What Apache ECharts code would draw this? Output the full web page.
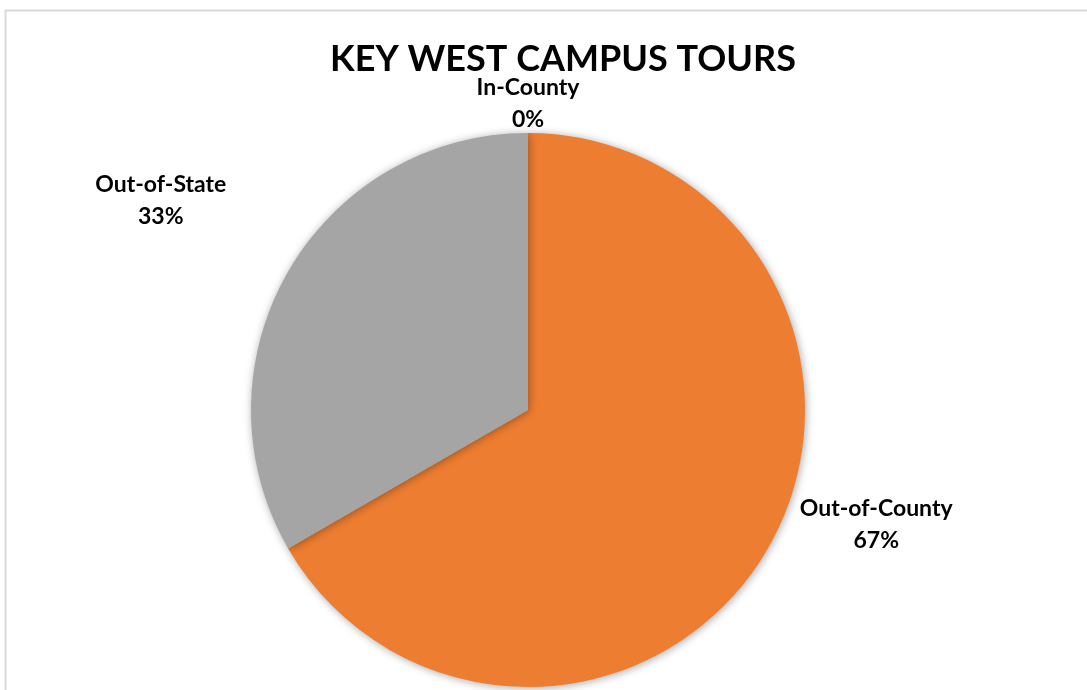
<!DOCTYPE html>
<html><head><meta charset="utf-8">
<script src="https://cdn.jsdelivr.net/npm/echarts@6/dist/echarts.min.js"></script>
<style>html,body{margin:0;padding:0;background:#fff}#c{width:1087px;height:690px}</style>
</head><body><div id="c"></div>
<script>
const titleText = 'KEY WEST CAMPUS TOURS';
const categories = ['In-County', 'Out-of-County', 'Out-of-State'];
const values = [0, 2, 1];
const colors = ['#5B9BD5', '#ED7D31', '#A5A5A5'];

const chart = echarts.init(document.getElementById('c'));
const font = 'Lato, "Open Sans", sans-serif';
chart.setOption({
  animation: false,
  graphic: [{
    type: 'rect', shape: { x: 5.5, y: 10.5, width: 1100, height: 700 },
    style: { fill: 'none', stroke: '#d9d9d9', lineWidth: 2 }, silent: true
  }],
  title: {
    text: titleText, left: 558, top: 36, textAlign: 'center',
    textStyle: { fontFamily: font, fontWeight: 'bold', fontSize: 36, color: '#000' }
  },
  series: [{
    type: 'pie',
    center: [528, 410],
    radius: 277,
    startAngle: 90,
    clockwise: true,
    data: categories.map((c, i) => ({ name: c, value: values[i], itemStyle: { color: colors[i] } })),
    itemStyle: { shadowBlur: 8, shadowColor: 'rgba(0,0,0,0.35)', shadowOffsetX: 1, shadowOffsetY: 1 },
    label: {
      show: true, position: 'outside',
      formatter: p => p.name + '\n' + Math.round(p.percent) + '%',
      fontFamily: font, fontWeight: 'bold', fontSize: 23, color: '#000',
      lineHeight: 32
    },
    labelLine: { show: false, length: 20, length2: 40 },
    labelLayout: function (p) {
      const shift = [[45, -9], [46, -34], [-65, -61]][p.dataIndex];
      return { align: 'center', dx: shift[0], dy: shift[1] };
    },
    emphasis: { disabled: true }
  }]
});
</script></body></html>
